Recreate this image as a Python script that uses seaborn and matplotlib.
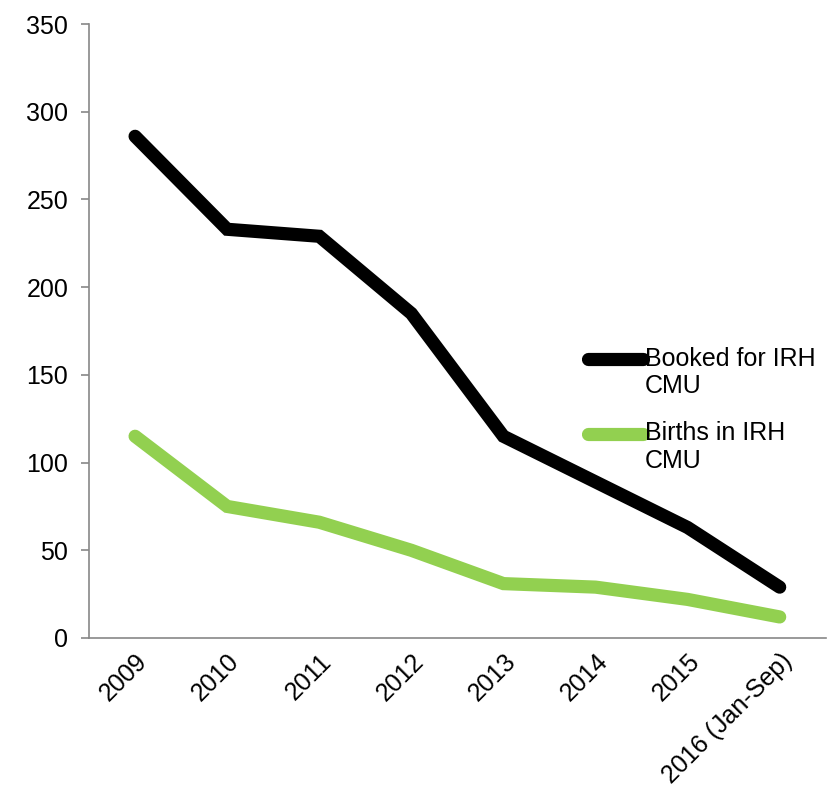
import numpy as np
import pandas as pd
import matplotlib
matplotlib.use("Agg")
import matplotlib.pyplot as plt
import seaborn as sns

years = ['2009', '2010', '2011', '2012', '2013', '2014', '2015', '2016 (Jan-Sep)']
booked = [286, 233, 229, 185, 115, 89, 63, 29]
births = [115, 75, 66, 50, 31, 29, 22, 12]
series_names = ['Booked for IRH\nCMU', 'Births in IRH\nCMU']
colors = ['#000000', '#92D050']

sns.set_style('white')
plt.rcParams['font.family'] = ['Liberation Sans', 'DejaVu Sans']
plt.rcParams['text.color'] = 'black'
plt.rcParams['xtick.labelcolor'] = 'black'
plt.rcParams['ytick.labelcolor'] = 'black'

df = pd.DataFrame({
    'x': list(range(len(years))) * 2,
    'value': booked + births,
    'series': [series_names[0]] * len(years) + [series_names[1]] * len(years),
})

fig = plt.figure(figsize=(8.4, 8.01), dpi=100)
ax = fig.add_axes([0.106, 0.2035, 0.877, 0.7665])

lw = 9.5
sns.lineplot(data=df, x='x', y='value', hue='series', palette=colors,
             hue_order=series_names, linewidth=lw, ax=ax,
             solid_capstyle='round', solid_joinstyle='miter')

ax.set_xlim(-0.5, len(years) - 0.5)
ax.set_ylim(0, 350)
ax.set_yticks(range(0, 351, 50))
ax.set_xticks(range(len(years)))
ax.set_xticklabels(years, rotation=45, ha='right', rotation_mode='anchor', fontsize=18)
ax.set_xticks(np.arange(-0.5, len(years), 1), minor=True)
ax.tick_params(axis='x', which='major', length=0, pad=8)
ax.tick_params(axis='x', which='minor', length=6, width=1.2, color='#888888', direction='out')
ax.tick_params(axis='y', length=6, width=1.2, color='#888888', direction='out', labelsize=18, pad=9)
ax.tick_params(bottom=True, left=True)
ax.set_xlabel('')
ax.set_ylabel('')

for s in ['top', 'right']:
    ax.spines[s].set_visible(False)
for s in ['left', 'bottom']:
    ax.spines[s].set_color('#888888')
    ax.spines[s].set_linewidth(1.2)

leg = ax.legend(loc='upper left', bbox_to_anchor=(0.660, 0.495), frameon=False,
                fontsize=18, handlelength=2.2, handletextpad=0.1,
                borderpad=0, labelspacing=0.9)
for line in leg.get_lines():
    line.set_linewidth(lw)
    line.set_solid_capstyle('round')
    # lift the handle to sit beside the first line of the label
    line.set_ydata(np.asarray(line.get_ydata()) + 10)

fig.savefig('out.png', dpi=100)
